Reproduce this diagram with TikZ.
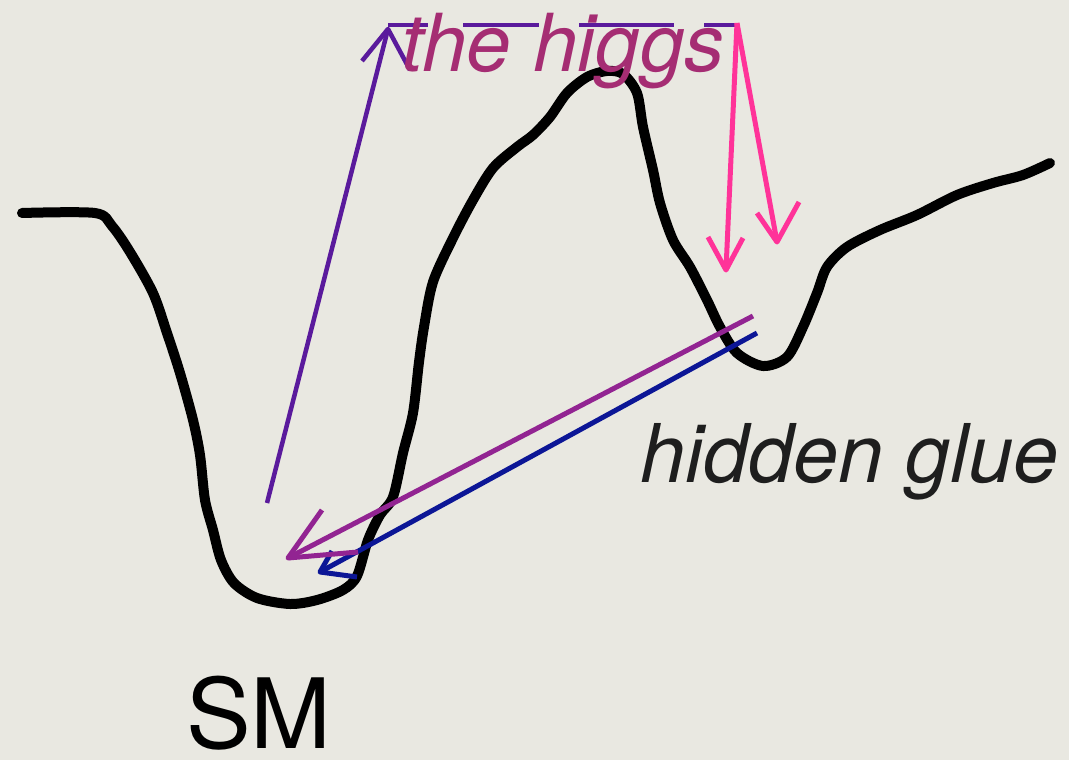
\documentclass[tikz,border=0pt]{standalone}
\usepackage{fontspec}
\setmainfont{TeX Gyre Heros}
\begin{document}
\begin{tikzpicture}[x=1pt,y=-1pt,
  curve/.style={line width=10pt,line cap=round,line join=round,black},
  higgsline/.style={line width=4.5pt,color=higgspurple,line cap=butt},
  pinkline/.style={line width=5pt,color=hotpink,line join=round},
  magline/.style={line width=5pt,color=magpurple,line join=round},
  blueline/.style={line width=5pt,color=deepblue,line join=round},
  lbl/.style={inner sep=0pt,anchor=base west}]
\definecolor{bg}{RGB}{233,232,225}
\definecolor{higgspurple}{RGB}{90,26,156}
\definecolor{magpurple}{RGB}{146,36,146}
\definecolor{deepblue}{RGB}{12,22,150}
\definecolor{hotpink}{RGB}{255,51,153}
\definecolor{higgstext}{RGB}{165,45,115}
\definecolor{gluetext}{RGB}{30,30,30}
\useasboundingbox (0,0) rectangle (1069,760);
\fill[bg] (0,0) rectangle (1069,760);

% potential curve
\draw[curve] plot[smooth,tension=0.5] coordinates {
 (22,213) (95,213) (112,226) (130,252) (153,293) (167,333) (180,373) (193,420)
 (200,455) (205,500) (213,530) (221,560) (234,583) (257,598) (290,604) (317,600)
 (343,590) (357,576) (368,540) (380,515) (393,497) (403,453) (413,413) (419,362)
 (424,327) (433,282) (453,238) (473,200) (493,168) (517,147) (533,135) (550,117)
 (567,93) (587,77) (607,71) (623,74) (637,93) (643,127) (653,170) (660,203)
 (673,240) (690,267) (707,300) (720,327) (737,353) (763,366) (787,357) (803,327)
 (817,293) (827,267) (847,247) (880,230) (917,215) (957,195) (993,183) (1023,175)
 (1050,163)};

% the higgs arrow
\coordinate (hbase) at (267,503);
\coordinate (htip) at (388,29);
\coordinate (hbl) at (362,61);
\coordinate (hbr) at (410,70);
\coordinate (hend) at (735,25);
\draw[higgsline,line join=round] (hbase) -- (htip);
\draw[higgsline,line join=round] (hbl) -- (htip) -- (hbr);
\draw[higgsline,dash pattern=on 40pt off 35pt on 76pt off 40pt on 95pt off 30pt on 40pt] (htip|-hend) -- (hend);

% pink arrows
\coordinate (ptop) at (737,23);
\coordinate (p1tip) at (726,270);
\coordinate (p1l) at (708,237);
\coordinate (p1r) at (743,238);
\coordinate (p2tip) at (777,242);
\coordinate (p2l) at (757,213);
\coordinate (p2r) at (799,202);
\draw[pinkline] (ptop) -- (p1tip);
\draw[pinkline] (p1l) -- (p1tip) -- (p1r);
\draw[pinkline] (ptop) -- (p2tip);
\draw[pinkline] (p2l) -- (p2tip) -- (p2r);

% hidden glue arrows
\coordinate (mstart) at (753,316);
\coordinate (mtip) at (288,558);
\coordinate (mb1) at (322,510);
\coordinate (mb2) at (358,552);
\coordinate (bstart) at (757,333);
\coordinate (btip) at (320,572);
\coordinate (bb1) at (332,551);
\coordinate (bb2) at (357,577);
\draw[blueline] (bstart) -- (btip);
\draw[blueline] (bb1) -- (btip) -- (bb2);
\draw[magline] (mstart) -- (mtip);
\draw[magline] (mb1) -- (mtip) -- (mb2);

% labels
\node[lbl,text=higgstext,font=\fontsize{80}{90}\selectfont\itshape] (higgs) at (401,72) {the higgs};
\node[lbl,text=gluetext,font=\fontsize{81}{90}\selectfont\itshape] (glue) at (640,482) {hidden glue};
\node[lbl,text=black,font=\fontsize{97}{110}\selectfont] (sm) at (186,748) {SM};
\end{tikzpicture}
\end{document}
